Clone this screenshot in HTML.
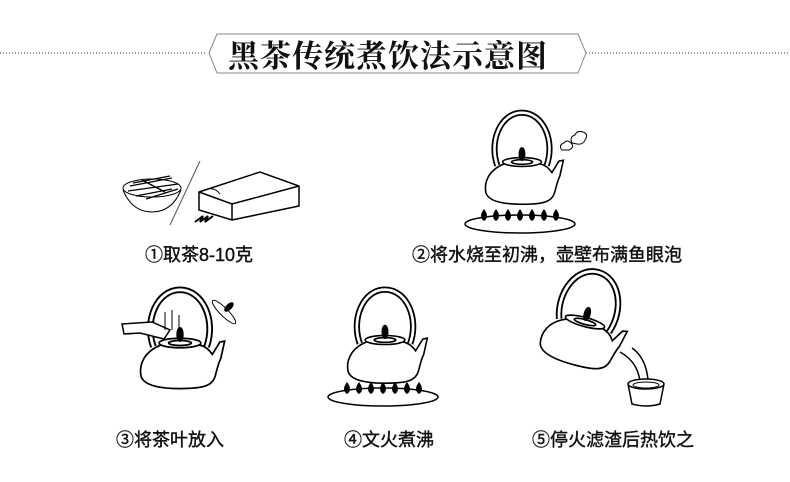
<!DOCTYPE html>
<html><head><meta charset="utf-8"><style>
body{margin:0;width:790px;height:482px;background:#fff;overflow:hidden;position:relative;font-family:"Liberation Sans","Noto Sans CJK SC",sans-serif}
.t{position:absolute;font-size:18px;color:#111;white-space:nowrap;line-height:20px;-webkit-text-stroke:0.4px #111}
</style></head><body>
<svg width="790" height="482" style="position:absolute;left:0;top:0">
<defs>
<g id="pot" fill="none" stroke="#000" stroke-width="1.8">
 <path d="M-28,4 C-38,-24 -24,-56 0,-56 C24,-56 38,-24 28,4" stroke-width="7"/>
 <path d="M-28,4 C-38,-24 -24,-56 0,-56 C24,-56 38,-24 28,4" stroke="#fff" stroke-width="3"/>
 <path d="M-20,2 C-40,10 -43,25 -41,35 C-38,45 -20,48 0,48 C25,48 34,45 37,35 C39,28 40,22 43,16 L47,-2 L42,-1 L34,12 C30,6 25,3 20,2"/>
 <ellipse cx="0" cy="0" rx="22" ry="5" fill="#fff"/>
 <ellipse cx="0" cy="0" rx="12" ry="2.6"/>
 <ellipse cx="0" cy="-9" rx="3" ry="7" fill="#000"/>
</g>
<g id="burner">
 <ellipse cx="0" cy="10" rx="55" ry="9" fill="none" stroke="#000" stroke-width="1.5"/>
 <g fill="#000">
  <path d="M-36,7 q-6,-4 0,-12 q6,8 0,12z"/><path d="M-24,7 q-6,-4 0,-12 q6,8 0,12z"/><path d="M-12,7 q-6,-4 0,-12 q6,8 0,12z"/><path d="M0,7 q-6,-4 0,-12 q6,8 0,12z"/><path d="M12,7 q-6,-4 0,-12 q6,8 0,12z"/><path d="M24,7 q-6,-4 0,-12 q6,8 0,12z"/><path d="M36,7 q-6,-4 0,-12 q6,8 0,12z"/>
 </g>
</g>
</defs>
<!-- header -->
<line x1="0" y1="53" x2="206" y2="53" stroke="#333" stroke-dasharray="1,2"/>
<line x1="586" y1="53" x2="790" y2="53" stroke="#333" stroke-dasharray="1,2"/>
<polygon points="217,34 578,34 586,53 578,73 217,73 209,53" fill="#fff" stroke="#888" stroke-width="1"/>
<!-- step1 -->
<ellipse cx="152" cy="188" rx="29" ry="9" fill="none" stroke="#000"/>
<path d="M123,190 Q132,212 152,212 Q172,212 181,190" fill="none" stroke="#000"/>
<g stroke="#000" stroke-width="1.3"><line x1="130" y1="186" x2="172" y2="178"/><line x1="128" y1="191" x2="178" y2="184"/><line x1="136" y1="196" x2="172" y2="189"/><line x1="142" y1="180" x2="165" y2="192"/><line x1="133" y1="183" x2="170" y2="176"/><line x1="146" y1="199" x2="178" y2="189"/></g>
<line x1="200" y1="161" x2="170" y2="225" stroke="#555"/>
<path d="M199,192 L260,172 L299,186 L299,206 L232,220 L199,210 Z M199,192 L232,204 L299,186 M232,204 L232,220" fill="#fff" stroke="#000" stroke-width="1.5"/>
<path d="M204,190 Q214,186 220,194" fill="none" stroke="#000"/>
<path d="M195,222 l8,-6 l-3,6 l8,-6 l-3,6 l8,-6" fill="none" stroke="#000" stroke-width="2"/>
<!-- step2 -->
<use href="#pot" transform="translate(522,162) scale(0.88)"/>
<path d="M562,150 q-4,-5 2,-7 q3,-4 7,0 q4,4 -2,7z M572,143 q-3,-6 3,-8 q2,-5 8,-3 q6,2 2,8 q-2,5 -8,4z" fill="none" stroke="#000"/>
<use href="#burner" transform="translate(520,214)"/>
<!-- step3 -->
<use href="#pot" transform="translate(180,343) scale(0.95)"/>
<path d="M122,324 L152,322 L170,330 L164,339 L140,333 L124,334 Z" fill="#fff" stroke="#000" stroke-width="1.5"/>
<g stroke="#000"><line x1="165" y1="312" x2="165" y2="330"/><line x1="172" y1="310" x2="172" y2="330"/><line x1="179" y1="315" x2="179" y2="330"/></g>
<g transform="translate(224,312) rotate(45)"><ellipse cx="0" cy="0" rx="16" ry="4" fill="#fff" stroke="#000"/><ellipse cx="0" cy="-7" rx="3" ry="6" fill="#000"/></g>
<!-- step4 -->
<use href="#pot" transform="translate(385,340) scale(0.9)"/>
<use href="#burner" transform="translate(383,387)"/>
<!-- step5 -->
<use href="#pot" transform="translate(585,322) rotate(15) scale(0.92)"/>
<path d="M620,352 q18,10 20,30 M632,348 q14,10 16,32" fill="none" stroke="#000" stroke-width="1.5"/>
<ellipse cx="646" cy="384" rx="18" ry="5" fill="#fff" stroke="#000" stroke-width="1.5"/>
<ellipse cx="646" cy="385" rx="13" ry="3" fill="none" stroke="#000"/>
<path d="M628,384 L632,404 Q646,408 660,404 L664,384" fill="none" stroke="#000" stroke-width="1.5"/>
</svg>
<div class="t" style="left:228px;top:36px;font-size:31px;line-height:36px;font-weight:bold;-webkit-text-stroke:0;font-family:'Noto Serif CJK SC','Liberation Serif',serif;letter-spacing:1px">黑茶传统煮饮法示意图</div>
<div class="t" style="left:145px;top:245px">①取茶8-10克</div>
<div class="t" style="left:412px;top:245px">②将水烧至初沸，壶壁布满鱼眼泡</div>
<div class="t" style="left:116px;top:430px">③将茶叶放入</div>
<div class="t" style="left:344px;top:430px">④文火煮沸</div>
<div class="t" style="left:532px;top:430px">⑤停火滤渣后热饮之</div>
</body></html>
